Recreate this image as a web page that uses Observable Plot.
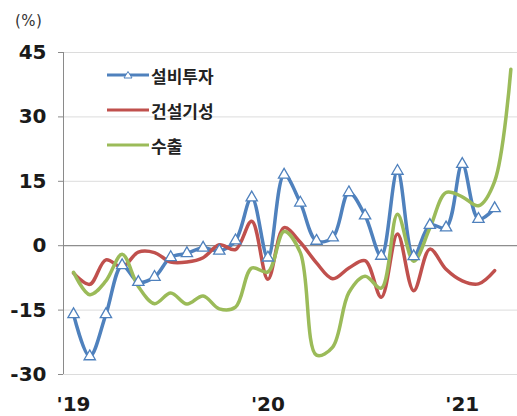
<!DOCTYPE html>
<html><head><meta charset="utf-8">
<script src="https://cdn.jsdelivr.net/npm/d3@7"></script>
<script src="https://cdn.jsdelivr.net/npm/@observablehq/plot@0.6"></script>
<style>
body{margin:0;background:#fff;}
#wrap{position:relative;width:517px;height:416px;overflow:hidden;}
#unit{position:absolute;left:15px;top:12px;font:15px "DejaVu Sans",sans-serif;color:#333;letter-spacing:0.5px;}
.leg{position:absolute;left:107px;height:24px;display:flex;align-items:center;font:bold 17px "Noto Sans CJK KR",sans-serif;color:#222;}
.leg svg{margin-right:2px;}
</style></head>
<body><div id="wrap"><div id="unit">(%)</div></div>
<script>
// Months (Jan 2019 – Apr 2021)
const months = ["2019-01","2019-02","2019-03","2019-04","2019-05","2019-06","2019-07","2019-08","2019-09","2019-10","2019-11","2019-12",
                "2020-01","2020-02","2020-03","2020-04","2020-05","2020-06","2020-07","2020-08","2020-09","2020-10","2020-11","2020-12",
                "2021-01","2021-02","2021-03","2021-04"];
// 설비투자 (facility investment, yoy %), Jan 2019 – Mar 2021
const investment = [-16.0,-25.8,-16.0,-4.6,-8.5,-7.3,-2.7,-1.8,-0.5,-1.2,1.2,11.2,
                    -2.8,16.5,10.0,1.1,1.9,12.4,7.0,-2.4,17.4,-2.5,4.8,4.2,
                    19.0,6.2,8.7];
// 건설기성 (construction completed, yoy %), Jan 2019 – Mar 2021
const construction = [-6.4,-9.0,-3.3,-5.0,-1.5,-1.6,-3.8,-3.8,-2.8,0.2,-0.9,5.7,
                      -7.8,4.2,0.8,-4.0,-7.7,-5.2,-3.5,-12.0,2.7,-10.5,-0.8,-5.5,
                      -8.2,-8.9,-5.8];
// 수출 (exports, yoy %), Jan 2019 – Apr 2021
const exportsSeries = [-6.2,-11.4,-8.2,-2.0,-9.5,-13.5,-11.0,-13.6,-11.7,-14.7,-14.3,-5.2,
                       -6.1,3.3,-1.6,-25.5,-23.6,-10.9,-7.1,-9.9,7.3,-3.6,4.1,12.4,
                       11.4,9.3,15.0,41.1];
const seriesNames = ["설비투자","건설기성","수출"];
const seriesColors = ["#4F81BD","#C0504D","#9BBB59"];
const yTicks = [-30,-15,0,15,30,45];
const xTickMonths = ["2019-01","2020-01","2021-01"];
const xTickLabels = ["'19","'20","'21"];

const toRows = arr => arr.map((v,i)=>({i, month: months[i], v}));
const invRows = toRows(investment);
const conRows = toRows(construction);
const expRows = toRows(exportsSeries);
const xTickPos = xTickMonths.map(m => months.indexOf(m));
const xDomain = [-0.62, 27.41];

const chart = Plot.plot({
  width: 517, height: 416,
  marginLeft: 63, marginRight: 0, marginTop: 52, marginBottom: 42,
  x: {domain: xDomain, axis: null},
  y: {domain: [-30, 45], axis: null},
  style: {fontFamily: "DejaVu Sans, sans-serif", background: "white", color: "#222"},
  marks: [
    Plot.gridY(yTicks, {stroke: "#dcdcdc", strokeOpacity: 1}),
    Plot.ruleY([0], {stroke: "#7a7a7a", strokeWidth: 1}),
    Plot.ruleX([xDomain[0]], {y1: yTicks[0], y2: yTicks[yTicks.length-1], stroke: "#8a8a8a"}),
    Plot.axisY(yTicks, {label: null, tickSize: 5, tickPadding: 12, fontSize: 20, fontWeight: "bold",
      stroke: "#8a8a8a", fill: "#1a1a1a", tickFormat: d => String(d)}),
    Plot.axisX(xTickPos, {label: null, tickSize: 0, tickPadding: 22, fontSize: 20, fontWeight: "bold", fill: "#1a1a1a",
      tickFormat: d => xTickLabels[xTickPos.indexOf(d)]}),
    Plot.line(invRows, {x: "i", y: "v", curve: "catmull-rom", stroke: seriesColors[0], strokeWidth: 3.5}),
    Plot.line(conRows, {x: "i", y: "v", curve: "catmull-rom", stroke: seriesColors[1], strokeWidth: 3.5}),
    Plot.line(expRows, {x: "i", y: "v", curve: "catmull-rom", stroke: seriesColors[2], strokeWidth: 3.5}),
    Plot.dot(invRows, {x: "i", y: "v", symbol: "triangle", r: 4.2, fill: "white", stroke: seriesColors[0], strokeWidth: 1.3})
  ]
});
const wrap = document.getElementById("wrap");
wrap.appendChild(chart);

// Legend
const legTops = [63, 98, 133];
seriesNames.forEach((name, k) => {
  const d = document.createElement("div");
  d.className = "leg";
  d.style.top = legTops[k] + "px";
  const tri = k === 0 ? `<path d="M21,2.5 L25,9 L17,9 Z" fill="white" stroke="${seriesColors[0]}" stroke-width="1"/>` : "";
  d.innerHTML = `<svg width="42" height="12"><line x1="0" y1="6" x2="42" y2="6" stroke="${seriesColors[k]}" stroke-width="3"/>${tri}</svg><span>${name}</span>`;
  wrap.appendChild(d);
});
</script>
</body></html>
